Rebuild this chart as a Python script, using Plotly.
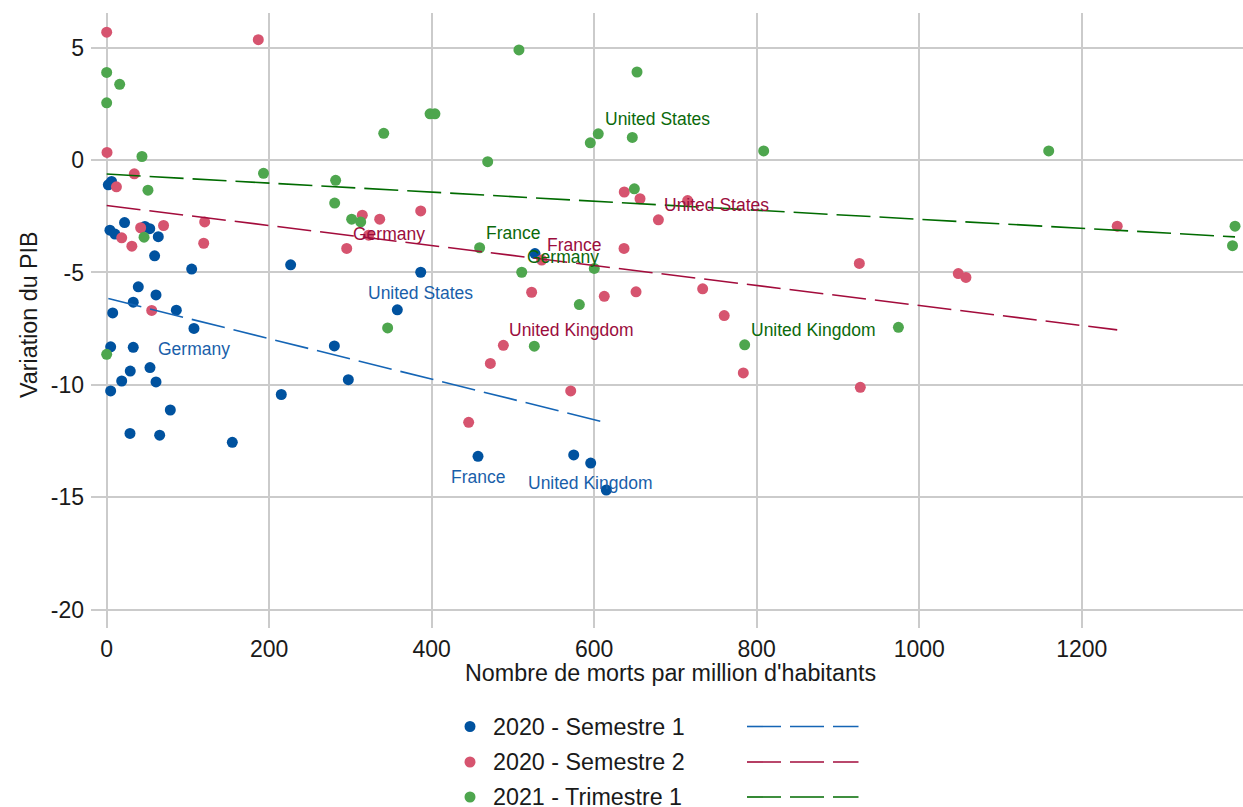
import numpy as np
import plotly.graph_objects as go

# ---- data: deaths per million (x) vs GDP change (y) ----
series_names = ["2020 - Semestre 1", "2020 - Semestre 2", "2021 - Trimestre 1"]

s1_x = [6, 2, 4, 10.2, 22, 47, 53, 63.5, 59, 104.6, 226.4, 527.1, 386.5, 38.9,
        60.7, 32.7, 85.7, 7.4, 107.4, 357.7, 280.2, 4.9, 32.7, 53.3, 29, 18.5,
        60.7, 297.4, 4.9, 214.9, 78.3, 28.7, 65.2, 154.6, 457, 574.8, 595.7, 614.9]
s1_y = [-0.95, -1.1, -3.12, -3.29, -2.78, -2.95, -3.05, -3.41, -4.26, -4.85,
        -4.66, -4.16, -4.99, -5.64, -6.0, -6.32, -6.68, -6.80, -7.49, -6.66,
        -8.27, -8.31, -8.33, -9.23, -9.39, -9.83, -9.87, -9.77, -10.27, -10.43,
        -11.12, -12.16, -12.24, -12.56, -13.18, -13.12, -13.48, -14.68]

s2_x = [0, 186.6, 0.4, 34, 12, 314.6, 336, 41.8, 70, 18.5, 31, 120.6, 119.4,
        295.4, 322.4, 386.5, 637, 656.4, 715, 679, 636.7, 535.4, 523, 612.4,
        651.5, 733.5, 760, 926.3, 1048.1, 1057.5, 1243.7, 55.4, 488.2, 472.2,
        571.1, 445.5, 783.5, 927.5]
s2_y = [5.69, 5.36, 0.34, -0.61, -1.19, -2.45, -2.63, -3.01, -2.91, -3.46,
        -3.83, -2.75, -3.70, -3.93, -3.34, -2.26, -1.42, -1.72, -1.80, -2.66,
        -3.93, -4.45, -5.88, -6.06, -5.86, -5.73, -6.92, -4.60, -5.05, -5.22,
        -2.94, -6.69, -8.24, -9.05, -10.27, -11.67, -9.47, -10.11]

s3_x = [0, 16, 0, 43.4, 341, 398, 404, 507.4, 652.7, 605, 595.2, 646.9, 468.9,
        808.6, 1159.4, 193, 281.8, 50.8, 280.6, 301.5, 312.6, 649.4, 459, 510.8,
        600.1, 581.7, 345.8, 526.3, 785.2, 974.4, 0, 46, 1388.7, 1385.6]
s3_y = [3.90, 3.37, 2.55, 0.16, 1.19, 2.06, 2.06, 4.90, 3.92, 1.17, 0.77, 1.01,
        -0.07, 0.41, 0.41, -0.59, -0.90, -1.34, -1.91, -2.63, -2.75, -1.28,
        -3.90, -4.99, -4.82, -6.43, -7.47, -8.28, -8.22, -7.44, -8.64, -3.43,
        -2.94, -3.81]

# country labels for each period
lab1_text = ["Germany", "United States", "France", "United Kingdom"]
lab1_x = [107.2, 386.2, 456.6, 595.7]
lab1_y = [-8.40, -5.92, -14.09, -14.35]

lab2_text = ["Germany", "France", "United Kingdom", "United States"]
lab2_x = [347.4, 575.1, 572.3, 749.9]
lab2_y = [-3.29, -3.79, -7.56, -1.98]

lab3_text = ["United States", "France", "Germany", "United Kingdom"]
lab3_x = [677.3, 499.7, 562.0, 869.8]
lab3_y = [1.83, -3.23, -4.32, -7.56]

x_ticks = [0, 200, 400, 600, 800, 1000, 1200]
y_ticks = [-20, -15, -10, -5, 0, 5]

# ---- styling ----
point_colors = ["#00529f", "#d6546f", "#4ea64e"]
line_colors = ["#1565b5", "#a30c3c", "#006b00"]
label_colors = ["#1a5faa", "#9b0d3d", "#0b690b"]
DASH = "34px,9px"
FONT = "Liberation Sans, Arial, sans-serif"

W, H = 1243, 807
L, R, T, B = 91, 0, 13, 179
PW, PH = W - L - R, H - T - B
X_RANGE = [-19.3, 1398.5]
Y_RANGE = [-20.82, 6.545]


def px_to_paper(px, py):
    return (px - L) / PW, (H - B - py) / PH


xs = [s1_x, s2_x, s3_x]
ys = [s1_y, s2_y, s3_y]
labels = [(lab1_text, lab1_x, lab1_y), (lab2_text, lab2_x, lab2_y),
          (lab3_text, lab3_x, lab3_y)]

fig = go.Figure()

# scatter points
for name, x, y, col in zip(series_names, xs, ys, point_colors):
    fig.add_trace(go.Scatter(
        x=x, y=y, mode="markers", name=name, showlegend=False,
        marker=dict(color=col, size=11, line=dict(width=0)),
    ))

# least-squares trend lines over each period's x span
for name, x, y, col in zip(series_names, xs, ys, line_colors):
    xa, ya = np.asarray(x, float), np.asarray(y, float)
    slope, intercept = np.polyfit(xa, ya, 1)
    xx = np.array([xa.min(), xa.max()])
    fig.add_trace(go.Scatter(
        x=xx, y=intercept + slope * xx, mode="lines", showlegend=False,
        line=dict(color=col, width=1.6, dash=DASH), hoverinfo="skip",
    ))

annotations = []
for (texts, lx, ly), col in zip(labels, label_colors):
    for t, ax, ay in zip(texts, lx, ly):
        annotations.append(dict(
            x=ax, y=ay, xref="x", yref="y", text=t, showarrow=False,
            font=dict(family=FONT, size=17.5, color=col),
            xanchor="center", yanchor="middle",
        ))

# axis titles
tx, ty = px_to_paper(670, 673)
annotations.append(dict(
    x=tx, y=ty, xref="paper", yref="paper", showarrow=False,
    text="Nombre de morts par million d'habitants",
    font=dict(family=FONT, size=23.3, color="#1a1a1a"),
    xanchor="center", yanchor="middle",
))
tx, ty = px_to_paper(29, 315)
annotations.append(dict(
    x=tx, y=ty, xref="paper", yref="paper", showarrow=False,
    text="Variation du PIB", textangle=-90,
    font=dict(family=FONT, size=23.3, color="#1a1a1a"),
    xanchor="center", yanchor="middle",
))

# legend: dot + label on the left, dashed line sample on the right
shapes = []
legend_rows = [726.5, 762, 797]
for name, pcol, lcol, ry in zip(series_names, point_colors, line_colors, legend_rows):
    cx0, cy0 = px_to_paper(464.5, ry - 5.5)
    cx1, cy1 = px_to_paper(475.5, ry + 5.5)
    shapes.append(dict(type="circle", xref="paper", yref="paper",
                       x0=cx0, x1=cx1, y0=cy1, y1=cy0,
                       fillcolor=pcol, line=dict(width=0)))
    lx0, ly = px_to_paper(747, ry)
    lx1, _ = px_to_paper(858.5, ry)
    shapes.append(dict(type="line", xref="paper", yref="paper",
                       x0=lx0, x1=lx1, y0=ly, y1=ly,
                       line=dict(color=lcol, width=1.6, dash=DASH)))
    tx, ty = px_to_paper(491, ry)
    annotations.append(dict(
        x=tx, y=ty, xref="paper", yref="paper", showarrow=False, text=name,
        font=dict(family=FONT, size=23.3, color="#1a1a1a"),
        xanchor="left", yanchor="middle",
    ))

axis_common = dict(
    showgrid=True, gridcolor="#cbcbcb", gridwidth=1.6,
    zeroline=False, showline=False, ticks="",
    tickfont=dict(family=FONT, size=23, color="#1a1a1a"),
)

fig.update_layout(
    width=W, height=H,
    margin=dict(l=L, r=R, t=T, b=B, pad=0),
    paper_bgcolor="white", plot_bgcolor="white",
    showlegend=False,
    xaxis=dict(range=X_RANGE, tickvals=x_ticks, ticktext=[str(v) for v in x_ticks],
               ticklabelstandoff=5, **axis_common),
    yaxis=dict(range=Y_RANGE, tickvals=y_ticks, ticktext=[str(v) for v in y_ticks],
               ticklabelstandoff=6, **axis_common),
    annotations=annotations,
    shapes=shapes,
    font=dict(family=FONT),
)

fig.write_html("out.html")
